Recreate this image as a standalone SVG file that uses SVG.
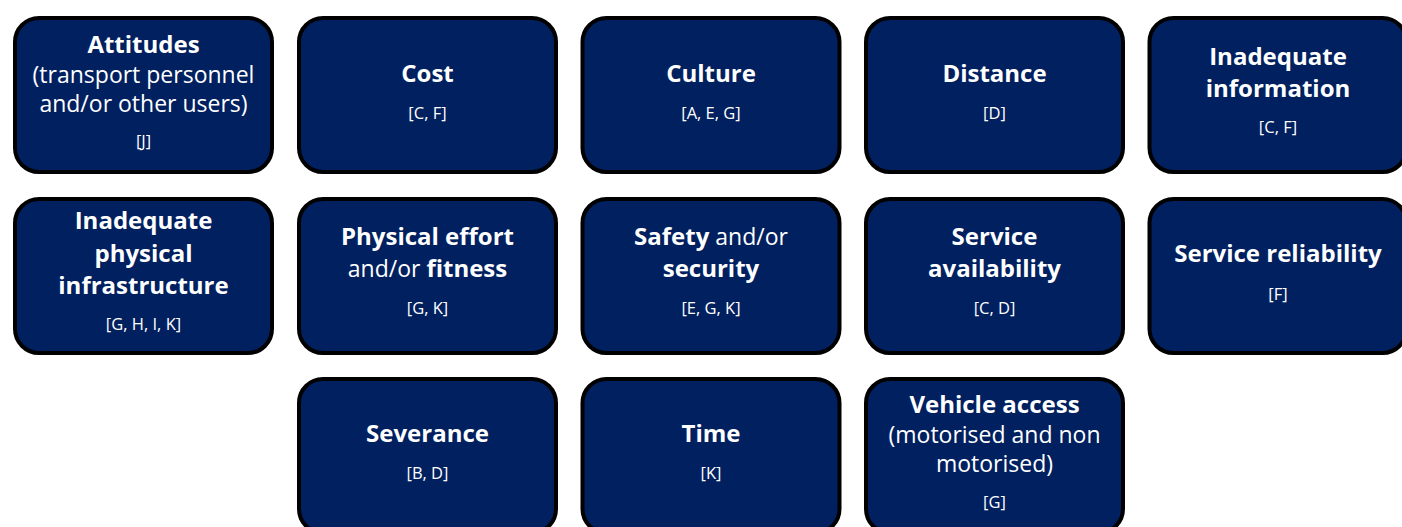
<svg xmlns="http://www.w3.org/2000/svg" width="1402" height="527" viewBox="0 0 1402 527">
  <style>
    .box { fill: #002060; stroke: #000000; stroke-width: 4; }
    text { fill: #ffffff; font-family: "Open Sans", "DejaVu Sans", sans-serif; text-anchor: middle; }
    .t { font-size: 24px; font-weight: 700; }
    .r { font-size: 23px; font-weight: 400; }
    .ref { font-size: 16.5px; font-weight: 400; }
    .b { font-weight: 700; font-size: 24px; }
  </style>

  <!-- row 1 -->
  <g id="attitudes">
    <rect class="box" x="15" y="18" width="257" height="154" rx="24"/>
    <text class="t" x="143.5" y="53">Attitudes</text>
    <text class="r" x="143.5" y="83">(transport personnel</text>
    <text class="r" x="143.5" y="112">and/or other users)</text>
    <text class="ref" x="143.5" y="147">[J]</text>
  </g>
  <g id="cost">
    <rect class="box" x="299" y="18" width="257" height="154" rx="24"/>
    <text class="t" x="427.5" y="82">Cost</text>
    <text class="ref" x="427.5" y="119">[C, F]</text>
  </g>
  <g id="culture">
    <rect class="box" x="582.5" y="18" width="257" height="154" rx="24"/>
    <text class="t" x="711" y="82">Culture</text>
    <text class="ref" x="711" y="119">[A, E, G]</text>
  </g>
  <g id="distance">
    <rect class="box" x="866" y="18" width="257" height="154" rx="24"/>
    <text class="t" x="994.5" y="82">Distance</text>
    <text class="ref" x="994.5" y="119">[D]</text>
  </g>
  <g id="inadequate-information">
    <rect class="box" x="1149.5" y="18" width="257" height="154" rx="24"/>
    <text class="t" x="1278" y="65">Inadequate</text>
    <text class="t" x="1278" y="97">information</text>
    <text class="ref" x="1278" y="133">[C, F]</text>
  </g>

  <!-- row 2 -->
  <g id="inadequate-physical-infrastructure">
    <rect class="box" x="15" y="199" width="257" height="154" rx="24"/>
    <text class="t" x="143.5" y="229">Inadequate</text>
    <text class="t" x="143.5" y="261.5">physical</text>
    <text class="t" x="143.5" y="294">infrastructure</text>
    <text class="ref" x="143.5" y="330">[G, H, I, K]</text>
  </g>
  <g id="physical-effort">
    <rect class="box" x="299" y="199" width="257" height="154" rx="24"/>
    <text class="t" x="427.5" y="245">Physical effort</text>
    <text class="r" x="427.5" y="277"><tspan>and/or </tspan><tspan class="b">fitness</tspan></text>
    <text class="ref" x="427.5" y="314">[G, K]</text>
  </g>
  <g id="safety-security">
    <rect class="box" x="582.5" y="199" width="257" height="154" rx="24"/>
    <text class="r" x="711" y="245"><tspan class="b">Safety</tspan><tspan> and/or</tspan></text>
    <text class="t" x="711" y="277">security</text>
    <text class="ref" x="711" y="314">[E, G, K]</text>
  </g>
  <g id="service-availability">
    <rect class="box" x="866" y="199" width="257" height="154" rx="24"/>
    <text class="t" x="994.5" y="245">Service</text>
    <text class="t" x="994.5" y="277">availability</text>
    <text class="ref" x="994.5" y="314">[C, D]</text>
  </g>
  <g id="service-reliability">
    <rect class="box" x="1149.5" y="199" width="257" height="154" rx="24"/>
    <text class="t" x="1278" y="262">Service reliability</text>
    <text class="ref" x="1278" y="300">[F]</text>
  </g>

  <!-- row 3 -->
  <g id="severance">
    <rect class="box" x="299" y="379" width="257" height="154" rx="24"/>
    <text class="t" x="427.5" y="442">Severance</text>
    <text class="ref" x="427.5" y="479">[B, D]</text>
  </g>
  <g id="time">
    <rect class="box" x="582.5" y="379" width="257" height="154" rx="24"/>
    <text class="t" x="711" y="442">Time</text>
    <text class="ref" x="711" y="479">[K]</text>
  </g>
  <g id="vehicle-access">
    <rect class="box" x="866" y="379" width="257" height="154" rx="24"/>
    <text class="t" x="994.5" y="413">Vehicle access</text>
    <text class="r" x="994.5" y="443">(motorised and non</text>
    <text class="r" x="994.5" y="472">motorised)</text>
    <text class="ref" x="994.5" y="508">[G]</text>
  </g>

  <!-- no connectors between these nodes -->
  <g id="connectors"/>
</svg>
